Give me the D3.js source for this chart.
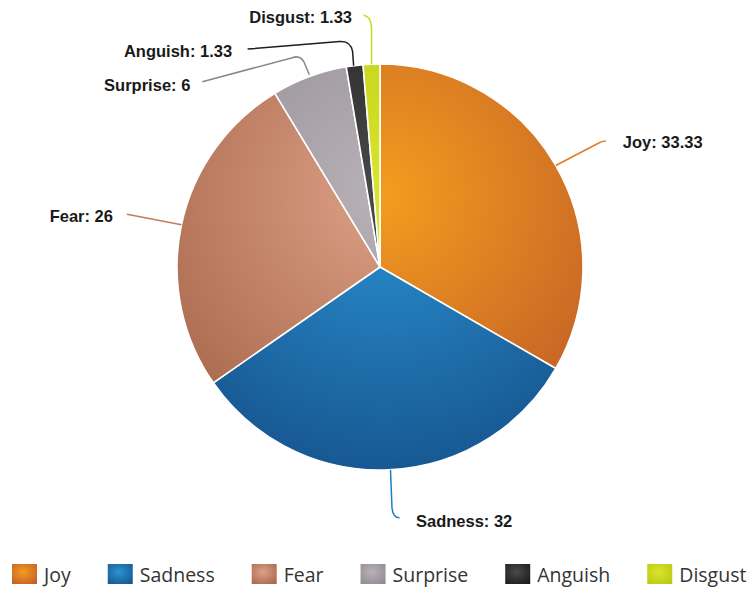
<!DOCTYPE html>
<html>
<head>
<meta charset="utf-8">
<script src="https://cdn.jsdelivr.net/npm/d3@7/dist/d3.min.js"></script>
<style>
  html, body { margin: 0; padding: 0; background: #fff; }
  svg { display: block; }
</style>
</head>
<body>
<svg id="chart" width="750" height="589"></svg>
<script>
// Emotion shares (percent)
const categories = ["Joy", "Sadness", "Fear", "Surprise", "Anguish", "Disgust"];
const values = [33.33, 32, 26, 6, 1.33, 1.33];
const valueLabels = ["33.33", "32", "26", "6", "1.33", "1.33"];

// Slice palette: light (inner) and dark (outer) tones
const lightColors = ["#f49c1e", "#2b92d2", "#dda086", "#b8b2b8", "#4a4a4a", "#dae42a"];
const darkColors  = ["#bf5c28", "#16558f", "#a6664a", "#8f8890", "#1a1a1a", "#b8c814"];
const lineColors  = ["#e07c22", "#1c7fc4", "#c57a5c", "#8c8690", "#1e1e1e", "#c8d81c"];

const W = 750, H = 589;
const cx = 380, cy = 267, R = 203;

const svg = d3.select("#chart");
const defs = svg.append("defs");

// One radial gradient per slice, all sharing the same highlight spot
// (coordinates are relative to the pie centre, since slices live in a translated group)
categories.forEach((c, i) => {
  const g = defs.append("radialGradient")
    .attr("id", "grad" + i)
    .attr("gradientUnits", "userSpaceOnUse")
    .attr("cx", 5).attr("cy", -72).attr("r", 290);
  g.append("stop").attr("offset", "0%").attr("stop-color", lightColors[i]);
  g.append("stop").attr("offset", "100%").attr("stop-color", darkColors[i]);

  const lg = defs.append("radialGradient")
    .attr("id", "lgrad" + i)
    .attr("cx", "45%").attr("cy", "40%").attr("r", "75%");
  lg.append("stop").attr("offset", "0%").attr("stop-color", lightColors[i]);
  lg.append("stop").attr("offset", "100%").attr("stop-color", darkColors[i]);
});

const pie = d3.pie().sort(null).value(d => d);
const arcs = pie(values);
const arc = d3.arc().innerRadius(0).outerRadius(R);

const g = svg.append("g").attr("transform", `translate(${cx},${cy})`);

g.selectAll("path.slice")
  .data(arcs)
  .join("path")
  .attr("class", "slice")
  .attr("d", arc)
  .attr("fill", (d, i) => `url(#grad${i})`)
  .attr("stroke", "#fff")
  .attr("stroke-width", 1.6)
  .attr("stroke-linejoin", "round");

// Point on the rim at a slice's mid angle
function rimPoint(d) {
  const a = (d.startAngle + d.endAngle) / 2;
  return [cx + R * Math.sin(a), cy - R * Math.cos(a)];
}

// Leader routes, as offsets from the rim point
const leaderShapes = [
  // Joy
  p => `M${p[0]},${p[1]} L${p[0]+42},${p[1]-22} Q${p[0]+46},${p[1]-24.5} ${p[0]+50},${p[1]-24.5}`,
  // Sadness
  p => `M${p[0]+2},${p[1]} L${p[0]+3.5},${p[1]+38} Q${p[0]+4.5},${p[1]+48} ${p[0]+11},${p[1]+48}`,
  // Fear
  p => `M${p[0]},${p[1]} L${p[0]-54.5},${p[1]-10.5}`,
  // Surprise
  p => `M${p[0]},${p[1]-2} L${p[0]-5},${p[1]-14} Q${p[0]-9},${p[1]-22} ${p[0]-17},${p[1]-19} L${p[0]-107},${p[1]+5}`,
  // Anguish
  p => `M${p[0]-1},${p[1]} L${p[0]-2},${p[1]-14} Q${p[0]-4},${p[1]-25} ${p[0]-15},${p[1]-24} L${p[0]-107},${p[1]-16.5}`,
  // Disgust
  p => `M${p[0]},${p[1]} L${p[0]},${p[1]-38} Q${p[0]-1},${p[1]-48} ${p[0]-8},${p[1]-49}`
];

// Label anchors, as offsets from the rim point
const labelOffsets = [
  { dx: 67, dy: -17.5, anchor: "start" },
  { dx: 27.5, dy: 57, anchor: "start" },
  { dx: -68.5, dy: -2.5, anchor: "end" },
  { dx: -119, dy: 14, anchor: "end" },
  { dx: -122.5, dy: -8.5, anchor: "end" },
  { dx: -19.5, dy: -41.5, anchor: "end" }
];

svg.append("g").selectAll("path")
  .data(arcs)
  .join("path")
  .attr("d", (d, i) => leaderShapes[i](rimPoint(d)))
  .attr("fill", "none")
  .attr("stroke", (d, i) => lineColors[i])
  .attr("stroke-width", 1.5);

svg.append("g").selectAll("text")
  .data(arcs)
  .join("text")
  .attr("x", (d, i) => rimPoint(d)[0] + labelOffsets[i].dx)
  .attr("y", (d, i) => rimPoint(d)[1] + labelOffsets[i].dy)
  .attr("text-anchor", (d, i) => labelOffsets[i].anchor)
  .attr("font-family", "'Liberation Sans', Arial, sans-serif")
  .attr("font-weight", "bold")
  .attr("font-size", 16.5)
  .attr("fill", "#1a1a1a")
  .text((d, i) => `${categories[i]}: ${valueLabels[i]}`);

// Legend along the bottom
const legend = svg.append("g").attr("transform", "translate(12,564)");
let x = 0;
categories.forEach((c, i) => {
  const item = legend.append("g").attr("transform", `translate(${x},0)`);
  item.append("rect")
    .attr("width", 25).attr("height", 20)
    .attr("fill", `url(#lgrad${i})`);
  const t = item.append("text")
    .attr("x", 32).attr("y", 18)
    .attr("font-family", "'Open Sans', sans-serif")
    .attr("font-size", 19.5)
    .attr("fill", "#333")
    .text(c);
  x += 32 + t.node().getComputedTextLength() + 37;
});
</script>
</body>
</html>
